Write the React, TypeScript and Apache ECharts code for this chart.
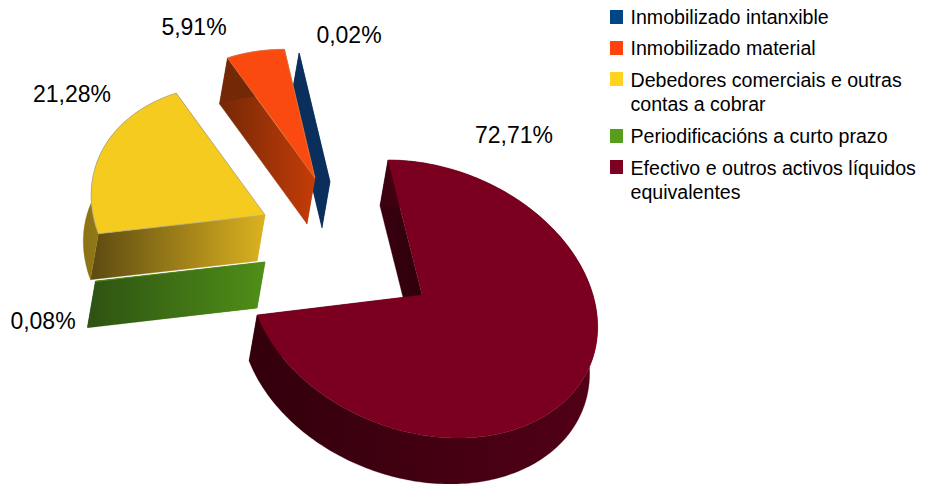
import React, { useEffect, useRef } from "react";
import * as echarts from "echarts";

const categories = [
  "Inmobilizado intanxible",
  "Inmobilizado material",
  "Debedores comerciais e outras\ncontas a cobrar",
  "Periodificacións a curto prazo",
  "Efectivo e outros activos líquidos\nequivalentes",
];
const shares = [0.02, 5.91, 21.28, 0.08, 72.71];
const legendColors = ["#004586", "#ff420e", "#ffd320", "#579d1c", "#7e0021"];

const topColors = ["#0a2f5c", "#fb4a10", "#f6cb20", "#4f8a18", "#7b001f"];
const explode = [
  [-94.2, -115.7],
  [-109.7, -119.9],
  [-159.6, -81.3],
  [-158, -33.2],
  [0, 0],
];
const widen = [1, 1, 1.022, 1.03, 1];
const labelPos = [
  [349, 35],
  [194, 27],
  [72, 94],
  [43, 321],
  [514, 135],
];
const radialFaces: [string, string][] = [
  ["#0a2f5c", "#0a2f5c"],
  ["#742806", "#c43c08"],
  ["#5c4a12", "#dcb220"],
  ["#2e5212", "#4f8f18"],
  ["#3a000f", "#2e000c"],
];
const arcFaces: [string, string][] = [
  ["#0a2f5c", "#0a2f5c"],
  ["#742806", "#742806"],
  ["#8a7216", "#b59518"],
  ["#2e5212", "#2e5212"],
  ["#33000c", "#520017"],
];

const CX = 422;
const CY = 295;
const Q = 0.000207;
const AX = -35;
const AY = -138.9;
const BX = -171;
const DEPTH: [number, number] = [-8, 46];

function project(gx: number, gy: number): [number, number] {
  const w = 1 - Q * gy;
  return [CX + gx / w, CY + gy / w];
}

function rim(i: number, deg: number): [number, number] {
  const t = (deg * Math.PI) / 180;
  return project(
    explode[i][0] + widen[i] * (AX * Math.cos(t) + BX * Math.sin(t)),
    explode[i][1] + AY * Math.cos(t),
  );
}

const shift = (p: [number, number]): [number, number] => [p[0] + DEPTH[0], p[1] + DEPTH[1]];

function grad(points: [number, number][], stops: [string, string]) {
  const xs = points.map((p) => p[0]);
  return new echarts.graphic.LinearGradient(
    Math.min(...xs), 0, Math.max(...xs), 0,
    [{ offset: 0, color: stops[0] }, { offset: 1, color: stops[1] }],
    true,
  );
}

function renderSlice(params: any, api: any) {
  const i = params.dataIndex;
  const before = shares.slice(0, i).reduce((a, b) => a + b, 0);
  const t0 = (before * 360) / 100;
  const t1 = t0 + (api.value(0) * 360) / 100;
  const steps = Math.max(2, Math.ceil(t1 - t0));
  const arc: [number, number][] = [];
  for (let k = 0; k <= steps; k++) arc.push(rim(i, t0 + ((t1 - t0) * k) / steps));
  const v = project(explode[i][0], explode[i][1]);
  const a = arc[0];
  const b = arc[arc.length - 1];

  const poly = (points: [number, number][], fill: any, stroke?: string) => ({
    type: "polygon",
    shape: { points },
    style: { fill, stroke: stroke || fill, lineWidth: stroke ? 0.8 : 0.3 },
  });

  const startFace: [number, number][] = [a, v, shift(v), shift(a)];
  const endFace: [number, number][] = [v, b, shift(b), shift(v)];
  const band: [number, number][] = [...arc, ...arc.map(shift).reverse()];
  const top: [number, number][] = [v, ...arc];
  const edge = i === 2 ? "#b5ad80" : i === 1 ? "#d8804a" : undefined;

  return {
    type: "group",
    children: [
      poly(startFace, grad(startFace, radialFaces[i])),
      poly(endFace, grad(endFace, radialFaces[i])),
      poly(band, grad(band, arcFaces[i])),
      poly(top, topColors[i], edge),
      {
        type: "text",
        x: labelPos[i][0],
        y: labelPos[i][1],
        style: {
          text: shares[i].toFixed(2).replace(".", ",") + "%",
          fill: "#000000",
          font: '23px "Liberation Sans"',
          align: "center",
          verticalAlign: "middle",
        },
      },
    ],
  };
}

const legendSwatchY = [10, 41, 72, 129, 160];
const legendTextY = [17, 48, 80, 136, 168];

export default function App() {
  const ref = useRef<HTMLDivElement>(null);
  useEffect(() => {
    document.body.style.margin = "0";
    const chart = echarts.init(ref.current!, undefined, { renderer: "svg" });
    const legend: any[] = [];
    categories.forEach((name, i) => {
      legend.push({
        type: "rect",
        shape: { x: 610, y: legendSwatchY[i], width: 13, height: 14 },
        style: { fill: legendColors[i] },
      });
      name.split("\n").forEach((line, j) => {
        legend.push({
          type: "text",
          x: 630.5,
          y: legendTextY[i] + j * 24,
          style: {
            text: line,
            fill: "#000000",
            font: '19.6px "Liberation Sans"',
            align: "left",
            verticalAlign: "middle",
          },
        });
      });
    });
    chart.setOption({
      animation: false,
      backgroundColor: "#ffffff",
      graphic: { elements: legend },
      series: [
        {
          type: "custom",
          coordinateSystem: "none",
          renderItem: renderSlice,
          silent: true,
          data: shares.map((v, i) => ({ name: categories[i], value: [v] })),
        },
      ],
    });
    return () => chart.dispose();
  }, []);
  return <div ref={ref} style={{ width: 932, height: 484 }} />;
}
